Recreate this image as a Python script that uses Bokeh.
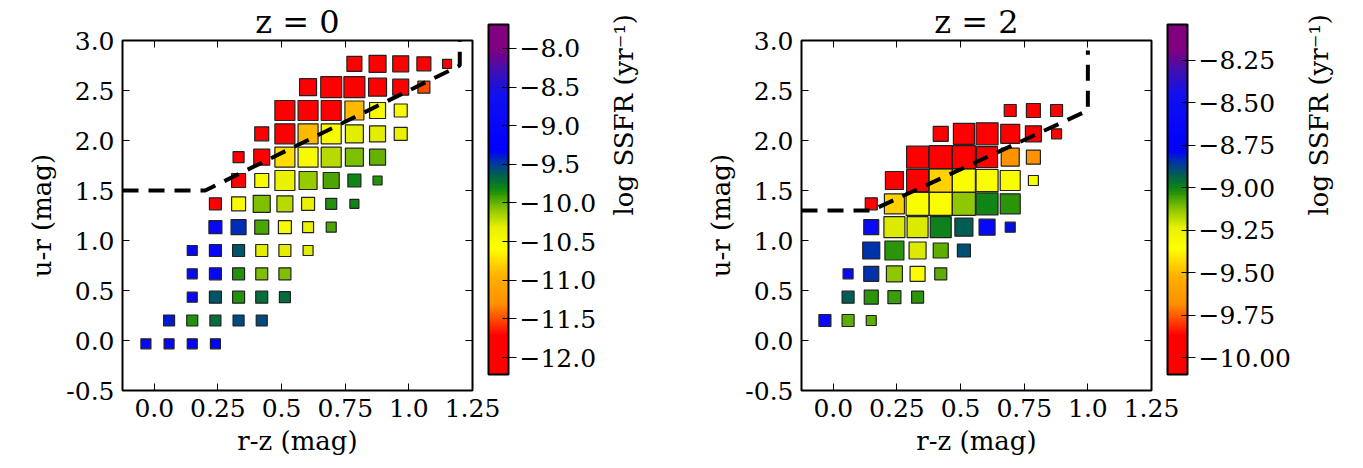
import math
import numpy as np
from bokeh.models import (ColumnDataSource, LinearColorMapper, ColorBar, FixedTicker,
                          LinearAxis, Range1d)
from bokeh.plotting import figure
from bokeh.layouts import row
from bokeh.embed import file_html
from bokeh.resources import INLINE

# bin centres of the colour-colour grid
rz_bins = [-0.033, 0.058, 0.149, 0.240, 0.331, 0.422, 0.513, 0.604, 0.695, 0.786, 0.877, 0.968, 1.059, 1.150]
ur_bins = [-0.033, 0.200, 0.433, 0.667, 0.900, 1.133, 1.367, 1.600, 1.833, 2.067, 2.300, 2.533, 2.767]

# z = 0 panel: (row index, column index, log SSFR, marker side)
z0_row = [0]*4 + [1]*5 + [2]*5 + [3]*5 + [4]*6 + [5]*6 + [6]*7 + [7]*7 + [8]*7 + [9]*7 + [10]*6 + [11]*6 + [12]*5
z0_col = [0, 1, 2, 3,
          1, 2, 3, 4, 5,
          2, 3, 4, 5, 6,
          2, 3, 4, 5, 6,
          2, 3, 4, 5, 6, 7,
          3, 4, 5, 6, 7, 8,
          3, 4, 5, 6, 7, 8, 9,
          4, 5, 6, 7, 8, 9, 10,
          4, 5, 6, 7, 8, 9, 10,
          5, 6, 7, 8, 9, 10, 11,
          6, 7, 8, 9, 10, 11,
          7, 8, 9, 10, 11, 12,
          9, 10, 11, 12, 13]
z0_ssfr = [-9.0, -9.0, -9.3, -9.3,
           -9.4, -9.85, -9.7, -9.55, -9.55,
           -9.0, -9.6, -9.85, -9.7, -9.7,
           -9.0, -9.0, -9.85, -10.05, -10.05,
           -9.0, -9.0, -9.6, -10.3, -10.3, -10.3,
           -9.0, -9.45, -9.95, -10.5, -10.35, -9.95,
           -12.0, -10.5, -10.05, -10.2, -10.35, -9.85, -9.8,
           -12.0, -10.5, -10.35, -10.1, -9.95, -9.8, -9.85,
           -12.0, -12.0, -10.75, -10.5, -10.2, -10.05, -10.0,
           -12.0, -12.0, -10.9, -10.5, -10.3, -10.3, -10.35,
           -12.0, -12.0, -12.0, -10.9, -10.5, -10.5,
           -12.0, -12.0, -12.0, -12.0, -12.0, -11.5,
           -12.0, -12.0, -12.0, -12.0, -12.0]
z0_side = [10, 10, 10, 10,
           11, 11, 11, 11, 11,
           10, 12, 12, 12, 11,
           10, 12, 12, 12, 12,
           10, 12, 12, 12, 12, 10,
           13, 15, 14, 13, 11, 10,
           12, 14, 17, 16, 13, 11, 9,
           14, 14, 20, 18, 16, 13, 9,
           11, 16, 20, 20, 20, 18, 16,
           14, 20, 20, 20, 18, 16, 13,
           20, 20, 20, 19, 16, 13,
           17, 21, 21, 18, 16, 12,
           15, 17, 16, 14, 9]

# z = 2 panel
z2_row = [1]*3 + [2]*4 + [3]*5 + [4]*5 + [5]*7 + [6]*7 + [7]*7 + [8]*6 + [9]*6 + [10]*3
z2_col = [0, 1, 2,
          1, 2, 3, 4,
          1, 2, 3, 4, 5,
          2, 3, 4, 5, 6,
          2, 3, 4, 5, 6, 7, 8,
          2, 3, 4, 5, 6, 7, 8,
          3, 4, 5, 6, 7, 8, 9,
          4, 5, 6, 7, 8, 9,
          5, 6, 7, 8, 9, 10,
          8, 9, 10]
z2_ssfr = [-8.6, -9.08, -9.08,
           -8.92, -9.03, -9.05, -9.03,
           -8.6, -8.85, -9.13, -9.33, -9.08,
           -8.85, -9.03, -9.22, -9.08, -8.9,
           -8.6, -9.22, -9.22, -8.99, -8.92, -8.65, -8.8,
           -10.0, -9.45, -9.33, -9.33, -9.13, -9.0, -9.03,
           -10.0, -10.0, -9.45, -9.33, -9.33, -9.33, -9.33,
           -10.0, -10.0, -10.0, -10.0, -9.68, -9.68,
           -10.0, -10.0, -10.0, -10.0, -10.0, -10.0,
           -10.0, -10.0, -10.0]
z2_side = [12, 12, 10,
           12, 14, 13, 12,
           10, 15, 16, 15, 12,
           17, 19, 17, 15, 13,
           15, 21, 21, 21, 18, 16, 10,
           12, 20, 23, 23, 23, 22, 20,
           18, 22, 23, 23, 22, 20, 10,
           22, 23, 23, 21, 18, 14,
           15, 21, 22, 19, 16, 10,
           12, 14, 12]

# dividing lines
z0_line_x = [-0.125, 0.2, 1.2, 1.2]
z0_line_y = [1.5, 1.5, 2.75, 3.0]
z2_line_x = [-0.125, 0.15, 1.0, 1.0]
z2_line_y = [1.3, 1.3, 2.3, 2.9]

# colour bar ranges and ticks
z0_cb = (-12.22, -7.69, [-12.0, -11.5, -11.0, -10.5, -10.0, -9.5, -9.0, -8.5, -8.0])
z2_cb = (-10.10, -8.04, [-10.0, -9.75, -9.5, -9.25, -9.0, -8.75, -8.5, -8.25])

# palette anchors (fraction, colour) approximating the reference colour bar
anchors = [(0.00, "#ff0000"), (0.11, "#ff0000"), (0.20, "#ff9000"), (0.28, "#ffb000"),
           (0.36, "#ffff00"), (0.42, "#e8f000"), (0.47, "#90c800"), (0.50, "#50a800"),
           (0.53, "#108810"), (0.57, "#006050"), (0.61, "#0030b0"), (0.64, "#0000ff"),
           (0.80, "#1010f0"), (0.87, "#4010b0"), (0.93, "#800080"), (1.00, "#800080")]


def hex2rgb(h):
    return [int(h[i:i + 2], 16) for i in (1, 3, 5)]


ts = np.linspace(0, 1, 256)
at = [a[0] for a in anchors]
ac = np.array([hex2rgb(a[1]) for a in anchors])
palette = ["#%02x%02x%02x" % tuple(int(round(np.interp(t, at, ac[:, c]))) for c in range(3)) for t in ts]

SERIF = "DejaVu Serif"


def panel(title, rows, cols, ssfr, side, lx, ly, cb, fmt, left_border, right_border):
    low, high, cticks = cb
    p = figure(frame_width=350, frame_height=350, x_range=Range1d(-0.125, 1.25),
               y_range=Range1d(-0.5, 3.0), output_backend="svg", toolbar_location=None,
               min_border_left=left_border, min_border_top=0, min_border_bottom=0,
               min_border_right=right_border)
    p.grid.visible = False
    p.outline_line_color = "black"
    p.outline_line_width = 2
    p.title.text = title
    p.title.text_font = SERIF
    p.title.text_font_size = "32px"
    p.title.text_font_style = "normal"
    p.title.text_color = "black"
    p.title.align = "center"
    p.title.standoff = 0

    xt = [0.0, 0.25, 0.5, 0.75, 1.0, 1.25]
    yt = [-0.5, 0.0, 0.5, 1.0, 1.5, 2.0, 2.5, 3.0]
    p.xaxis.ticker = FixedTicker(ticks=xt)
    p.yaxis.ticker = FixedTicker(ticks=yt)
    p.xaxis.major_label_overrides = {0.0: "0.0", 0.25: "0.25", 0.5: "0.5", 0.75: "0.75",
                                     1.0: "1.0", 1.25: "1.25"}
    p.yaxis.major_label_overrides = {v: "%.1f" % v for v in yt}
    p.xaxis.axis_label = "r-z (mag)"
    p.yaxis.axis_label = "u-r (mag)"
    for ax in (p.xaxis[0], p.yaxis[0]):
        ax.axis_label_text_font = SERIF
        ax.axis_label_text_font_size = "26px"
        ax.axis_label_text_font_style = "normal"
        ax.axis_label_text_color = "black"
        ax.major_label_text_font = SERIF
        ax.major_label_text_font_size = "25px"
        ax.major_label_text_color = "black"
        ax.major_tick_in = 7
        ax.major_tick_out = 0
        ax.major_tick_line_color = "black"
        ax.minor_tick_in = 0
        ax.minor_tick_out = 0
        ax.axis_line_color = None
        ax.major_label_standoff = 8
        ax.axis_label_standoff = 6
    for loc, tk in (("above", xt), ("right", yt)):
        a = LinearAxis(ticker=FixedTicker(ticks=tk), major_label_text_color=None,
                       major_label_text_font_size="1px", major_label_standoff=0,
                       major_tick_in=7, major_tick_out=0, minor_tick_in=0, minor_tick_out=0,
                       major_tick_line_color="black", axis_line_color=None)
        p.add_layout(a, loc)

    mapper = LinearColorMapper(palette=palette, low=low, high=high)
    src = ColumnDataSource(dict(x=[rz_bins[c] for c in cols], y=[ur_bins[r] for r in rows],
                                s=ssfr, size=side))
    p.scatter("x", "y", marker="square", size="size", source=src,
              fill_color={"field": "s", "transform": mapper},
              line_color="#222222", line_width=1.2)
    p.line(lx, ly, line_color="black", line_width=4, line_dash="16 10")

    cbar = ColorBar(color_mapper=mapper, width=20, height=350, padding=16, margin=21,
                    location=(0, 0), ticker=FixedTicker(ticks=cticks),
                    major_label_overrides={v: (fmt % v).replace("-", "\u2212") for v in cticks},
                    major_label_text_font=SERIF, major_label_text_font_size="25px",
                    major_label_text_color="black",
                    major_tick_in=6, major_tick_out=8, major_tick_line_color="black",
                    bar_line_color="black", bar_line_width=2, label_standoff=3,
                    background_fill_color=None, border_line_color=None)
    p.add_layout(cbar, "right")
    lab = LinearAxis(ticker=FixedTicker(ticks=[]), axis_line_color=None,
                     major_tick_in=0, major_tick_out=0, minor_tick_in=0, minor_tick_out=0,
                     major_label_text_color=None, major_label_text_font_size="1px",
                     axis_label="log SSFR (yr\u207b\u00b9)", axis_label_text_font=SERIF,
                     axis_label_text_font_size="26px", axis_label_text_font_style="normal",
                     axis_label_text_color="black",
                     axis_label_standoff=8, axis_label_orientation=math.pi / 2)
    p.add_layout(lab, "right")
    return p


p1 = panel("z = 0", z0_row, z0_col, z0_ssfr, z0_side, z0_line_x, z0_line_y, z0_cb, "%.1f",
           122, 165)
p2 = panel("z = 2", z2_row, z2_col, z2_ssfr, z2_side, z2_line_x, z2_line_y, z2_cb, "%.2f",
           145, 200)
p = row(p1, p2)

open("out.html", "w").write(file_html(p, INLINE))
